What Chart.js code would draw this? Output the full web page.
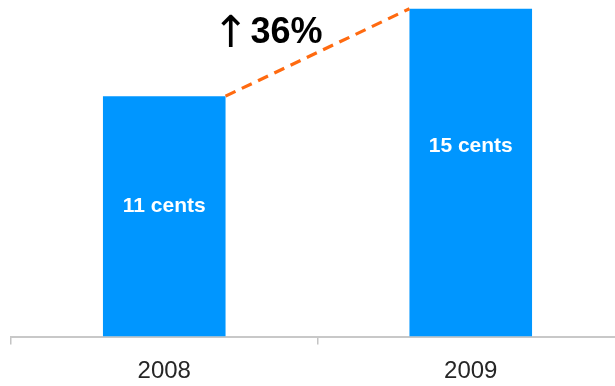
<!DOCTYPE html>
<html>
<head>
<meta charset="utf-8">
<script src="https://cdn.jsdelivr.net/npm/chart.js@4/dist/chart.umd.min.js"></script>
<style>
html,body{margin:0;padding:0;background:#fff;overflow:hidden;width:615px;height:386px;}
#wrap{position:relative;width:624px;height:386px;}
</style>
</head>
<body>
<div id="wrap"><canvas id="c" width="624" height="386"></canvas></div>
<script>
const categories = ["2008", "2009"];
const values = [11, 15];
const valueUnit = "cents";
const changeLabel = "36%";
const changeArrow = "↑";

const FONT = '"Liberation Sans", Arial, sans-serif';

const annotations = {
  id: 'annotations',
  afterDatasetsDraw(chart) {
    const ctx = chart.ctx;
    const meta = chart.getDatasetMeta(0);
    const b0 = meta.data[0], b1 = meta.data[1];
    // bar value labels
    ctx.save();
    ctx.fillStyle = '#ffffff';
    ctx.font = 'bold 21px ' + FONT;
    ctx.textAlign = 'center';
    ctx.textBaseline = 'middle';
    meta.data.forEach((bar, i) => {
      const y = bar.y + 36 + 0.31 * (bar.base - bar.y);
      ctx.fillText(values[i] + ' ' + valueUnit, bar.x, y);
    });
    ctx.restore();
    // dashed connector
    const x0 = b0.x + b0.width / 2, y0 = b0.y;
    const x1 = b1.x - b1.width / 2, y1 = b1.y;
    ctx.save();
    ctx.strokeStyle = '#FF6A10';
    ctx.lineWidth = 3.2;
    ctx.setLineDash([11, 7]);
    ctx.beginPath();
    ctx.moveTo(x0, y0);
    ctx.lineTo(x1, y1);
    ctx.stroke();
    ctx.restore();
    // change label
    const midX = (x0 + x1) / 2;
    ctx.save();
    ctx.fillStyle = '#000000';
    ctx.textBaseline = 'alphabetic';
    ctx.font = 'bold 36px ' + FONT;
    ctx.textAlign = 'right';
    const right = midX + 5;
    const baseY = y1 + 34;
    ctx.fillText(changeLabel, right, baseY);
    const w = ctx.measureText(changeLabel).width;
    ctx.font = 'normal 44px "DejaVu Sans", sans-serif';
    ctx.fillText(changeArrow, right - w - 1, baseY + 4);
    ctx.restore();
  }
};

new Chart(document.getElementById('c'), {
  type: 'bar',
  data: {
    labels: categories,
    datasets: [{
      data: values,
      backgroundColor: '#0096FF',
      borderWidth: 0,
      barPercentage: 0.4,
      categoryPercentage: 1.0
    }]
  },
  options: {
    responsive: false,
    devicePixelRatio: 1,
    animation: false,
    layout: { padding: { left: 11, right: 0, top: 0, bottom: 0 } },
    plugins: { legend: { display: false }, tooltip: { enabled: false } },
    scales: {
      x: {
        grid: { display: true, drawOnChartArea: false, drawTicks: true, tickLength: 8, color: '#c4c4c4', lineWidth: 1.5, offset: true },
        border: { display: true, color: '#c8c8c8', width: 2 },
        ticks: { color: '#262626', font: { family: FONT, size: 24 }, padding: 12 },
        afterFit(scale) { scale.height = 49.5; }
      },
      y: { display: false, min: 0, max: 15.4 }
    }
  },
  plugins: [annotations]
});
</script>
</body>
</html>
